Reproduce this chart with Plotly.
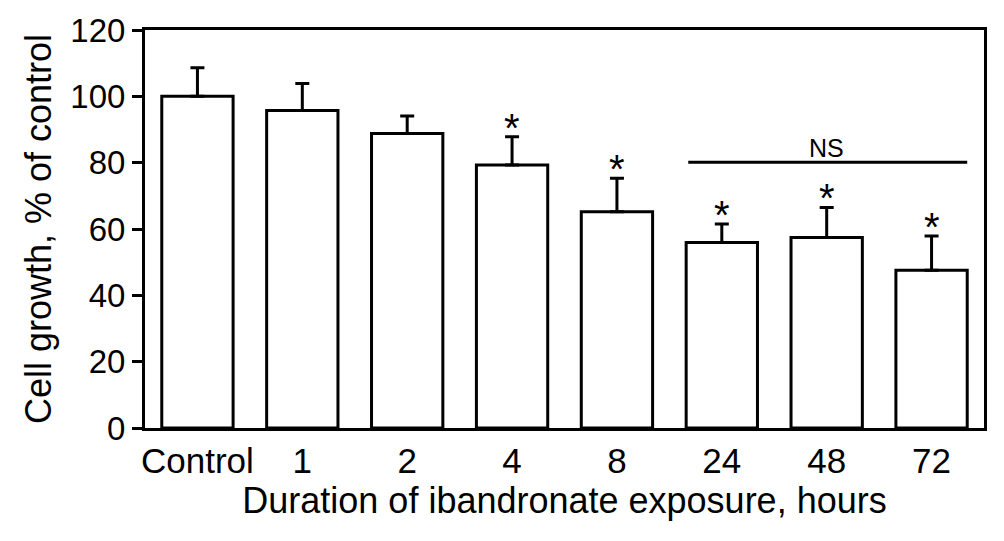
import plotly.graph_objects as go

# exposure groups and cell growth (% of control)
categories = ["Control", "1", "2", "4", "8", "24", "48", "72"]
growth = [100, 95.7, 88.8, 79.3, 65.2, 55.9, 57.4, 47.6]
error_up = [8.6, 8.2, 5.3, 8.5, 10.1, 5.6, 9.1, 10.3]
significant = [False, False, False, True, True, True, True, True]
y_ticks = [0, 20, 40, 60, 80, 100, 120]

# NS bracket spanning 24..72 h
ns_start, ns_end, ns_level = 4.68, 7.34, 80.1
ns_label_pos, ns_label_level = 6.0, 84.3

FONT = "Arial, Liberation Sans, sans-serif"

fig = go.Figure(
    go.Bar(
        x=categories,
        y=growth,
        marker=dict(color="white", line=dict(color="black", width=3)),
        error_y=dict(
            type="data",
            symmetric=False,
            array=error_up,
            arrayminus=[0] * len(error_up),
            color="black",
            thickness=3,
            width=7,
        ),
        width=0.68,
        showlegend=False,
    )
)

# significance stars above the error caps (x as category index)
for i, (val, err, sig) in enumerate(zip(growth, error_up, significant)):
    if sig:
        fig.add_annotation(
            x=i, y=val + err, text="*", showarrow=False,
            yanchor="middle", yshift=9,
            font=dict(family=FONT, size=40, color="black"),
        )

fig.add_shape(
    type="line", xref="x", yref="y",
    x0=ns_start, x1=ns_end, y0=ns_level, y1=ns_level,
    line=dict(color="black", width=3),
)
fig.add_annotation(
    x=ns_label_pos, y=ns_label_level, text="NS", showarrow=False,
    font=dict(family=FONT, size=25, color="black"),
)

# page body adds an 8px margin, so the figure is a bit smaller than the window
fig.update_layout(
    width=996,
    height=533,
    margin=dict(l=137, r=20, t=22, b=113),
    paper_bgcolor="white",
    plot_bgcolor="white",
    font=dict(family=FONT, color="black"),
    xaxis=dict(
        type="category",
        range=[-0.5, 7.5],
        automargin=False,
        showline=True, linecolor="black", linewidth=3, mirror=True,
        ticks="", showgrid=False,
        tickfont=dict(size=35),
        title=dict(text="Duration of ibandronate exposure, hours",
                   font=dict(size=36), standoff=4),
    ),
    yaxis=dict(
        range=[0, 120],
        tickvals=y_ticks,
        automargin=False,
        showline=True, linecolor="black", linewidth=3, mirror=True,
        ticks="outside", ticklen=10, tickwidth=3, tickcolor="black",
        showgrid=False, zeroline=False,
        tickfont=dict(size=33),
        title=dict(text="Cell growth, % of control",
                   font=dict(size=36), standoff=8),
    ),
)

fig.write_html("out.html")
